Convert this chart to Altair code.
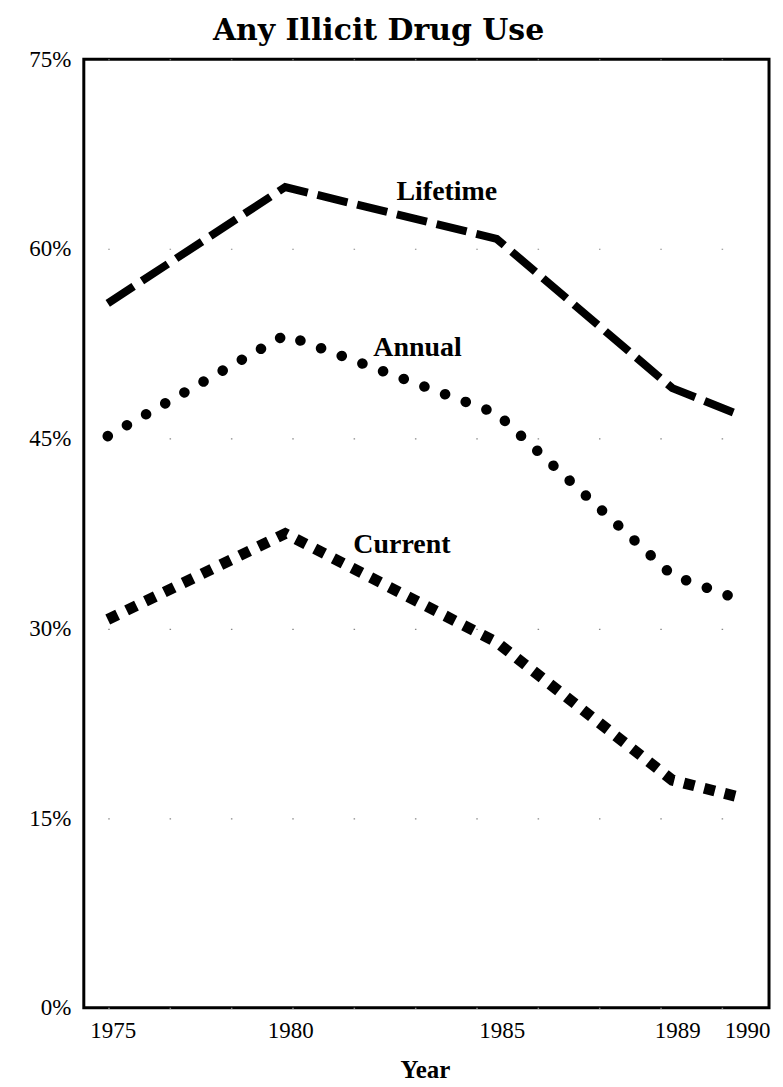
import altair as alt
import pandas as pd

# ---- data ----
years = [1975, 1980, 1985, 1989, 1990]
lifetime = [55.7, 64.9, 60.8, 49.0, 46.8]
annual = [45.2, 53.2, 47.0, 34.2, 32.2]
current = [30.7, 37.5, 28.9, 18.0, 16.6]

series_names = ["Lifetime", "Annual", "Current"]
label_years = [1982.63, 1982.08, 1981.61]
label_values = [63.9, 51.5, 36.0]

y_ticks = [0, 15, 30, 45, 60, 75]

rows = []
for name, vals in zip(series_names, [lifetime, annual, current]):
    for yr, v in zip(years, vals):
        rows.append({"year": yr, "value": v, "series": name})
df = pd.DataFrame(rows)
labels_df = pd.DataFrame({"series": series_names, "year": label_years, "value": label_values})

SERIF = "Liberation Serif"

x_scale = alt.Scale(domain=years, range=[24, 202, 414, 590, 660], zero=False, nice=False)
y_scale = alt.Scale(domain=[0, 75], nice=False, zero=True)

x_enc = alt.X(
    "year:Q",
    scale=x_scale,
    axis=alt.Axis(
        values=years, format="d", title="Year", labelFlush=False, ticks=False,
        domain=False, grid=False, labelFont=SERIF, labelFontSize=23,
        labelColor="black", labelPadding=12, labelOffset=5, titleFont=SERIF,
        titleFontSize=25, titleFontWeight="bold", titleColor="black",
        titlePadding=15,
    ),
)
y_enc = alt.Y(
    "value:Q",
    scale=y_scale,
    axis=alt.Axis(
        values=y_ticks, labelExpr="datum.value + '%'", title=None, ticks=False,
        domain=False, grid=True, gridDash=[1.5, 60], gridColor="#888888",
        gridWidth=1.2, labelFont=SERIF, labelFontSize=23, labelColor="black",
        labelPadding=13,
    ),
)

base = alt.Chart(df).encode(x=x_enc, y=y_enc)

life_layer = base.transform_filter(alt.datum.series == "Lifetime").mark_line(
    color="black", strokeWidth=8, strokeDash=[31, 10], strokeCap="butt"
)
annual_layer = base.transform_filter(alt.datum.series == "Annual").mark_line(
    color="black", strokeWidth=10.5, strokeDash=[0.1, 22], strokeCap="round"
)
current_layer = base.transform_filter(alt.datum.series == "Current").mark_line(
    color="black", strokeWidth=11, strokeDash=[11, 10], strokeCap="butt"
)

text_layer = alt.Chart(labels_df).mark_text(
    align="left", baseline="alphabetic", font=SERIF, fontSize=28,
    fontWeight="bold", color="black",
).encode(x=x_enc, y=y_enc, text="series:N")

chart = (
    alt.layer(life_layer, annual_layer, current_layer, text_layer)
    .properties(
        width=687,
        height=951,
        title=alt.TitleParams(
            "Any Illicit Drug Use", font="DejaVu Serif", fontSize=30,
            fontWeight="bold", color="black", anchor="middle", dx=-48,
            offset=2,
        ),
        autosize=alt.AutoSizeParams(type="none"),
        padding={"left": 76, "top": 50, "right": 6, "bottom": 76},
        background="white",
    )
    .configure_view(stroke="black", strokeWidth=3)
)

chart.save("out.html", embed_options={"renderer": "svg", "actions": False})
